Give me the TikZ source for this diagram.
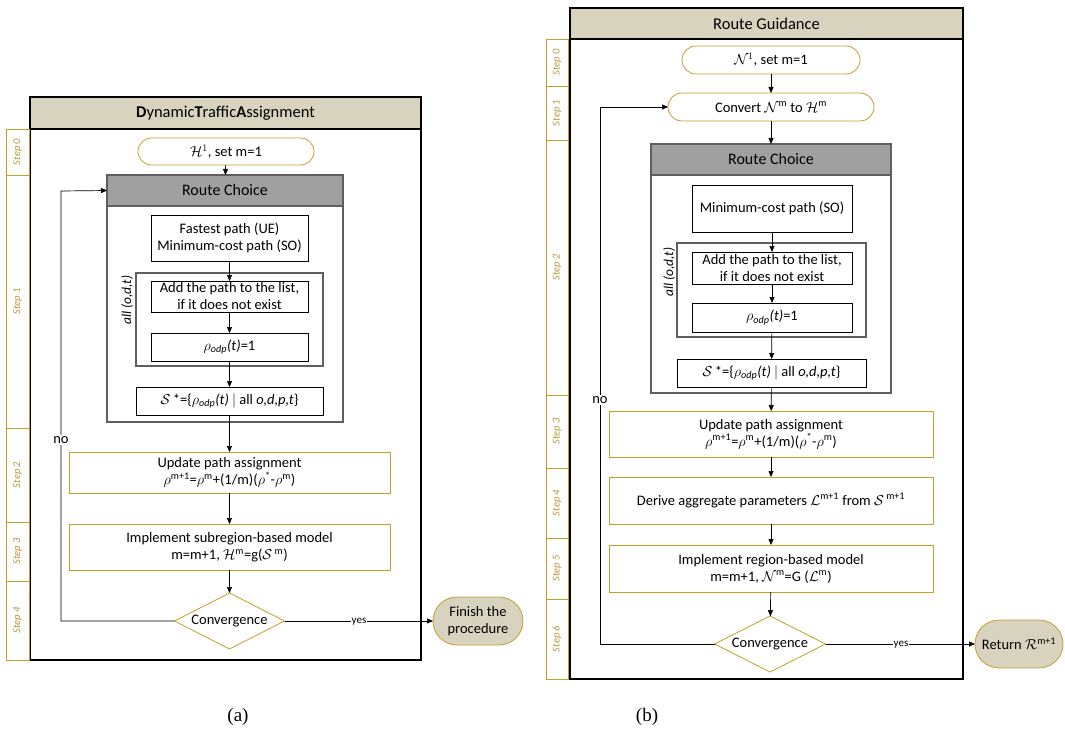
\documentclass[tikz,border=0pt]{standalone}
\usepackage{fontspec}
\setmainfont{Carlito}
\newfontfamily\capfont{Liberation Serif}
\usetikzlibrary{arrows.meta,shapes.geometric}
\definecolor{gold}{RGB}{198,158,42}
\definecolor{steptext}{RGB}{185,150,60}
\definecolor{beige}{RGB}{216,211,190}
\definecolor{hdrgray}{RGB}{160,160,160}
\definecolor{cgray}{RGB}{95,95,95}
\begin{document}
\begin{tikzpicture}[x=1pt,y=-1pt,
  every node/.style={inner sep=0pt, outer sep=0pt, align=center},
  base/.style={font=\fontsize{14.5}{17}\selectfont},
  outerframe/.style={draw=black, line width=1.8pt},
  titlebar/.style={draw=black, line width=1.5pt, fill=beige, font=\fontsize{16.5}{19}\selectfont},
  stepbox/.style={draw=gold, line width=0.8pt, rotate=90, text=steptext, font=\itshape\fontsize{10.5}{12}\selectfont},
  pill/.style={base, draw=gold, line width=0.8pt, fill=white},
  obox/.style={base, draw=gold, line width=0.8pt, fill=white},
  bbox/.style={base, draw=black, line width=0.7pt, fill=white},
  cont/.style={draw=cgray, line width=1.5pt},
  hdr/.style={draw=cgray, line width=1.5pt, fill=hdrgray, font=\fontsize{16}{19}\selectfont},
  decision/.style={base, diamond, aspect=2, draw=gold, line width=0.8pt, fill=white},
  endnode/.style={base, draw=gold, line width=0.8pt, fill=beige},
  arr/.style={-{Triangle[length=6pt,width=5pt]}, line width=0.7pt},
  lbl/.style={base, fill=white, inner sep=1pt}
]
\useasboundingbox (0,0) rectangle (1065,733);

% ================= (a) =================
\node[outerframe, minimum width=391, minimum height=563] (frameA) at (225.5,378.5) {};
\node[titlebar, minimum width=391, minimum height=32] (titleA) at (225.5,113) {\textbf{D}ynamic\textbf{T}raffic\textbf{A}ssignment};
\node[stepbox, minimum width=46, minimum height=23] (sa0) at (17.5,152) {Step 0};
\node[stepbox, minimum width=253, minimum height=23] (sa1) at (17.5,301.5) {Step 1};
\node[stepbox, minimum width=94, minimum height=23] (sa2) at (17.5,475) {Step 2};
\node[stepbox, minimum width=59, minimum height=23] (sa3) at (17.5,551.5) {Step 3};
\node[stepbox, minimum width=79, minimum height=23] (sa4) at (17.5,620.5) {Step 4};

\node[pill, minimum width=176, minimum height=27, rounded corners=13.5pt] (startA) at (226,151.5) {$\mathcal{H}^1$, set m=1};
\node[cont, minimum width=236, minimum height=247] (rcbodyA) at (225,298.5) {};
\node[hdr, minimum width=236, minimum height=31] (rcA) at (225,190.5) {Route Choice};
\node[bbox, minimum width=157, minimum height=46] (fastA) at (229.5,238) {Fastest path (UE)\\Minimum-cost path (SO)};
\node[cont, minimum width=187, minimum height=93] (allA) at (229.5,319.5) {};
\node[rotate=90, font=\itshape\fontsize{13.5}{15}\selectfont] (allAl) at (127,300) {all (o,d,t)};
\node[bbox, minimum width=157, minimum height=31] (addA) at (229.5,296.5) {Add the path to the list,\\if it does not exist};
\node[bbox, minimum width=157, minimum height=28] (rhoA) at (229.5,347) {$\rho$\textsubscript{\textit{odp}}\textit{(t)}=1};
\node[bbox, minimum width=187, minimum height=28] (sA) at (229.5,401) {$\mathcal{S}$\,*=\{$\rho$\textsubscript{\textit{odp}}\textit{(t)} $|$ all \textit{o,d,p,t}\}};
\node[obox, minimum width=321, minimum height=41] (updA) at (229.5,472.5) {Update path assignment\\$\rho$\textsuperscript{m+1}=$\rho$\textsuperscript{m}+(1/m)($\rho$\textsuperscript{*}-$\rho$\textsuperscript{m})};
\node[obox, minimum width=321, minimum height=46] (implA) at (229.5,547) {Implement subregion-based model\\m=m+1, $\mathcal{H}$\textsuperscript{m}=g($\mathcal{S}$\,\textsuperscript{m})};
\node[decision, minimum width=110, minimum height=56] (convA) at (229.5,621) {Convergence};
\node[endnode, minimum width=90, minimum height=48, rounded corners=24pt] (finA) at (478,621) {Finish the\\procedure};
\coordinate (noA1) at (61,621);
\coordinate (noA2) at (61,191);

\draw[arr] (startA) -- (rcA);
\draw[arr] (fastA) -- (addA);
\draw[arr] (addA) -- (rhoA);
\draw[arr] (rhoA) -- (sA);
\draw[arr] (sA) -- (updA);
\draw[arr] (updA) -- (implA);
\draw[arr] (implA) -- (convA);
\draw[arr] (convA.west) -- (noA1) -- (noA2) -- (rcA.west);
\node[lbl] at (61,440) {no};
\draw[arr] (convA.east) -- (finA.west);
\node[lbl, font=\fontsize{11}{12}\selectfont] at (359,622) {yes};

% ================= (b) =================
\node[outerframe, minimum width=393, minimum height=671] (frameB) at (766.5,343.5) {};
\node[titlebar, minimum width=393, minimum height=31] (titleB) at (766.5,23.5) {Route Guidance};
\node[stepbox, minimum width=47, minimum height=22] (sb0) at (557,62.5) {Step 0};
\node[stepbox, minimum width=54, minimum height=22] (sb1) at (557,113) {Step 1};
\node[stepbox, minimum width=255, minimum height=22] (sb2) at (557,267.5) {Step 2};
\node[stepbox, minimum width=73, minimum height=22] (sb3) at (557,431.5) {Step 3};
\node[stepbox, minimum width=70, minimum height=22] (sb4) at (557,503) {Step 4};
\node[stepbox, minimum width=61, minimum height=22] (sb5) at (557,568.5) {Step 5};
\node[stepbox, minimum width=80, minimum height=22] (sb6) at (557,639) {Step 6};

\node[pill, minimum width=178, minimum height=28, rounded corners=14pt] (startB) at (771,60) {$\mathcal{N}^1$, set m=1};
\node[pill, minimum width=206, minimum height=28, rounded corners=14pt] (convertB) at (771,107) {Convert $\mathcal{N}$\textsuperscript{m} to $\mathcal{H}$\textsuperscript{m}};
\node[cont, minimum width=240, minimum height=249] (rcbodyB) at (771,268.5) {};
\node[hdr, minimum width=240, minimum height=31] (rcB) at (771,159.5) {Route Choice};
\node[bbox, minimum width=160, minimum height=47] (minB) at (772,208.5) {Minimum-cost path (SO)};
\node[cont, minimum width=189, minimum height=94] (allB) at (771.5,290) {};
\node[rotate=90, font=\itshape\fontsize{13.5}{15}\selectfont] (allBl) at (669,272) {all (o,d,t)};
\node[bbox, minimum width=160, minimum height=32] (addB) at (772,268) {Add the path to the list,\\if it does not exist};
\node[bbox, minimum width=160, minimum height=29] (rhoB) at (772,317.5) {$\rho$\textsubscript{\textit{odp}}\textit{(t)}=1};
\node[bbox, minimum width=189, minimum height=28] (sB) at (771.5,373) {$\mathcal{S}$\,*=\{$\rho$\textsubscript{\textit{odp}}\textit{(t)} $|$ all \textit{o,d,p,t}\}};
\node[obox, minimum width=324, minimum height=46] (updB) at (771,434) {Update path assignment\\$\rho$\textsuperscript{m+1}=$\rho$\textsuperscript{m}+(1/m)($\rho$\textsuperscript{*}-$\rho$\textsuperscript{m})};
\node[obox, minimum width=324, minimum height=47] (derB) at (771,500.5) {Derive aggregate parameters $\mathcal{L}$\textsuperscript{m+1} from $\mathcal{S}$\,\textsuperscript{m+1}};
\node[obox, minimum width=324, minimum height=47] (impB) at (771,568.5) {Implement region-based model\\m=m+1, $\mathcal{N}$\textsuperscript{m}=G ($\mathcal{L}$\textsuperscript{m})};
\node[decision, minimum width=111, minimum height=56] (convB) at (770,644) {Convergence};
\node[endnode, minimum width=88, minimum height=48, rounded corners=24pt] (retB) at (1019,644) {Return $\mathcal{R}$\textsuperscript{m+1}};
\coordinate (noB1) at (600,644);
\coordinate (noB2) at (600,107);

\draw[arr] (startB) -- (convertB);
\draw[arr] (convertB) -- (rcB);
\draw[arr] (minB) -- (addB);
\draw[arr] (addB) -- (rhoB);
\draw[arr] (rhoB) -- (sB);
\draw[arr] (sB) -- (updB);
\draw[arr] (updB) -- (derB);
\draw[arr] (derB) -- (impB);
\draw[arr] (impB) -- (convB);
\draw[arr] (convB.west) -- (noB1) -- (noB2) -- (convertB.west);
\node[lbl] at (600,400) {no};
\draw[arr] (convB.east) -- (retB.west);
\node[lbl, font=\fontsize{11}{12}\selectfont] at (901,645) {yes};

% captions
\node[font=\capfont\fontsize{19}{21}\selectfont] (capA) at (238,717) {(a)};
\node[font=\capfont\fontsize{19}{21}\selectfont] (capB) at (647,717) {(b)};
\end{tikzpicture}
\end{document}
